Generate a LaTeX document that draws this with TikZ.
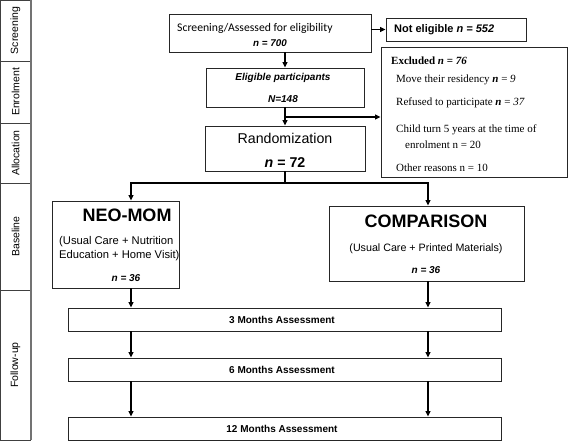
\documentclass[tikz,border=0pt]{standalone}
\usepackage{fontspec}
\setmainfont{Liberation Sans}
\newfontfamily\tms{Liberation Serif}
\newfontfamily\calib{Carlito}
\usetikzlibrary{arrows.meta}
\begin{document}
\begin{tikzpicture}[x=1pt,y=-1pt,
  box/.style={draw=black!85, line width=0.9pt, rectangle, inner sep=0pt},
  side/.style={draw=black!75, line width=0.9pt, rectangle, inner sep=0pt, minimum width=30pt},
  lab/.style={inner sep=0pt, font=\fontsize{10.5}{12}\selectfont, rotate=90},
  arr/.style={line width=1.5pt, -{Triangle[length=5.5pt,width=5pt]}},
  ln/.style={line width=1.5pt},
  txt/.style={inner sep=0pt},
  tt/.style={inner sep=0pt, anchor=west, font=\tms\fontsize{11}{13}\selectfont}]
\useasboundingbox (0,0) rectangle (568,441);
% side column
\node[side, minimum height=61pt]  (r1) at (15.5,30.5) {};
\node[side, minimum height=62pt]  (r2) at (15.5,92) {};
\node[side, minimum height=60pt]  (r3) at (15.5,153) {};
\node[side, minimum height=107pt] (r4) at (15.5,236.5) {};
\node[side, minimum height=150pt] (r5) at (15.5,365) {};
\draw[black!55, line width=1.6pt] (r1.north east) -- (r5.south east);
\node[lab] (l1) at (r1.center) {Screening};
\node[lab] (l2) at (r2.center) {Enrolment};
\node[lab] (l3) at (r3.center) {Allocation};
\node[lab] (l4) at (r4.center) {Baseline};
\node[lab] (l5) at (r5.center) {Follow-up};
% boxes
\node[box, minimum width=202pt, minimum height=38pt] (scr) at (270,33) {};
\node[box, minimum width=140pt, minimum height=23pt] (nel) at (456,29.5) {};
\node[box, minimum width=158pt, minimum height=39pt] (elig) at (285,87.5) {};
\node[box, minimum width=186pt, minimum height=130pt] (excl) at (474,112) {};
\node[box, minimum width=160pt, minimum height=45pt] (rand) at (285,148.5) {};
\node[box, minimum width=127pt, minimum height=87pt] (neo) at (115.5,244.5) {};
\node[box, minimum width=195pt, minimum height=75pt] (comp) at (426.5,243.5) {};
\node[box, minimum width=433pt, minimum height=23pt] (m3) at (284.5,319.5) {};
\node[box, minimum width=433pt, minimum height=23pt] (m6) at (284.5,369.5) {};
\node[box, minimum width=433pt, minimum height=23pt] (m12) at (284.5,428.5) {};
% texts
\node[txt, anchor=west, font=\calib\fontsize{11.7}{13}\selectfont] (t1) at (177,28) {Screening/Assessed for eligibility};
\node[txt, font=\fontsize{9.8}{11}\selectfont\bfseries\itshape] (t2) at (270,43) {n = 700};
\node[txt, anchor=west, font=\fontsize{11}{12}\selectfont\bfseries] (t3) at (394,29.5) {Not eligible \textit{n = 552}};
\node[txt, font=\fontsize{10}{11}\selectfont\bfseries\itshape] (t4) at (283,78) {Eligible participants};
\node[txt, font=\fontsize{10}{11}\selectfont\bfseries\itshape] (t5) at (283,99) {N=148};
\node[tt] (e1) at (391,61) {\textbf{Excluded \textit{n} = \textit{76}}};
\node[tt] (e2) at (396,80) {Move their residency \textbf{\textit{n}} = \textit{9}};
\node[tt] (e3) at (396,103) {Refused to participate \textbf{\textit{n}} = \textit{37}};
\node[tt] (e4) at (396,130) {Child turn 5 years at the time of};
\node[tt] (e5) at (405,145) {enrolment n = 20};
\node[tt] (e6) at (396,168) {Other reasons n = 10};
\node[txt, font=\fontsize{14.2}{16}\selectfont] (t6) at (285,138) {Randomization};
\node[txt, font=\fontsize{14.2}{16}\selectfont\bfseries] (t7) at (285,163) {\textit{n} = 72};
\node[txt, font=\fontsize{18}{20}\selectfont\bfseries] (t8) at (127,215) {NEO-MOM};
\node[txt, anchor=west, font=\fontsize{11.2}{13}\selectfont] (t9) at (59,242) {(Usual Care + Nutrition};
\node[txt, anchor=west, font=\fontsize{11.2}{13}\selectfont] (t10) at (59,256) {Education + Home Visit)};
\node[txt, font=\fontsize{10}{11}\selectfont\bfseries\itshape] (t11) at (126,278) {n = 36};
\node[txt, font=\fontsize{18}{20}\selectfont\bfseries] (t12) at (426,221) {COMPARISON};
\node[txt, font=\fontsize{10.7}{12}\selectfont] (t13) at (426,249) {(Usual Care + Printed Materials)};
\node[txt, font=\fontsize{10}{11}\selectfont\bfseries\itshape] (t14) at (426,270) {n = 36};
\node[txt, font=\fontsize{10}{11}\selectfont\bfseries] (t15) at (282,319.5) {3 Months Assessment};
\node[txt, font=\fontsize{10}{11}\selectfont\bfseries] (t16) at (282,369.5) {6 Months Assessment};
\node[txt, font=\fontsize{10}{11}\selectfont\bfseries] (t17) at (282,428.5) {12 Months Assessment};
% connectors
\coordinate (L) at (131,0);
\coordinate (R) at (428,0);
\coordinate (split) at (285,183);
\coordinate (br) at (285,117);
\draw[arr] (elig.north |- scr.south) -- (elig.north);
\draw[arr] (scr.east |- nel.west) -- (nel.west);
\draw[arr] (elig.south) -- (rand.north);
\draw[arr] (br) -- (br -| excl.west);
\draw[ln] (rand.south) -- (split);
\draw[arr] (split) -| (L |- neo.north);
\draw[arr] (split) -| (R |- comp.north);
\draw[arr] (L |- neo.south) -- (L |- m3.north);
\draw[arr] (R |- comp.south) -- (R |- m3.north);
\draw[arr] (L |- m3.south) -- (L |- m6.north);
\draw[arr] (R |- m3.south) -- (R |- m6.north);
\draw[arr] (L |- m6.south) -- (L |- m12.north);
\draw[arr] (R |- m6.south) -- (R |- m12.north);
\end{tikzpicture}
\end{document}
